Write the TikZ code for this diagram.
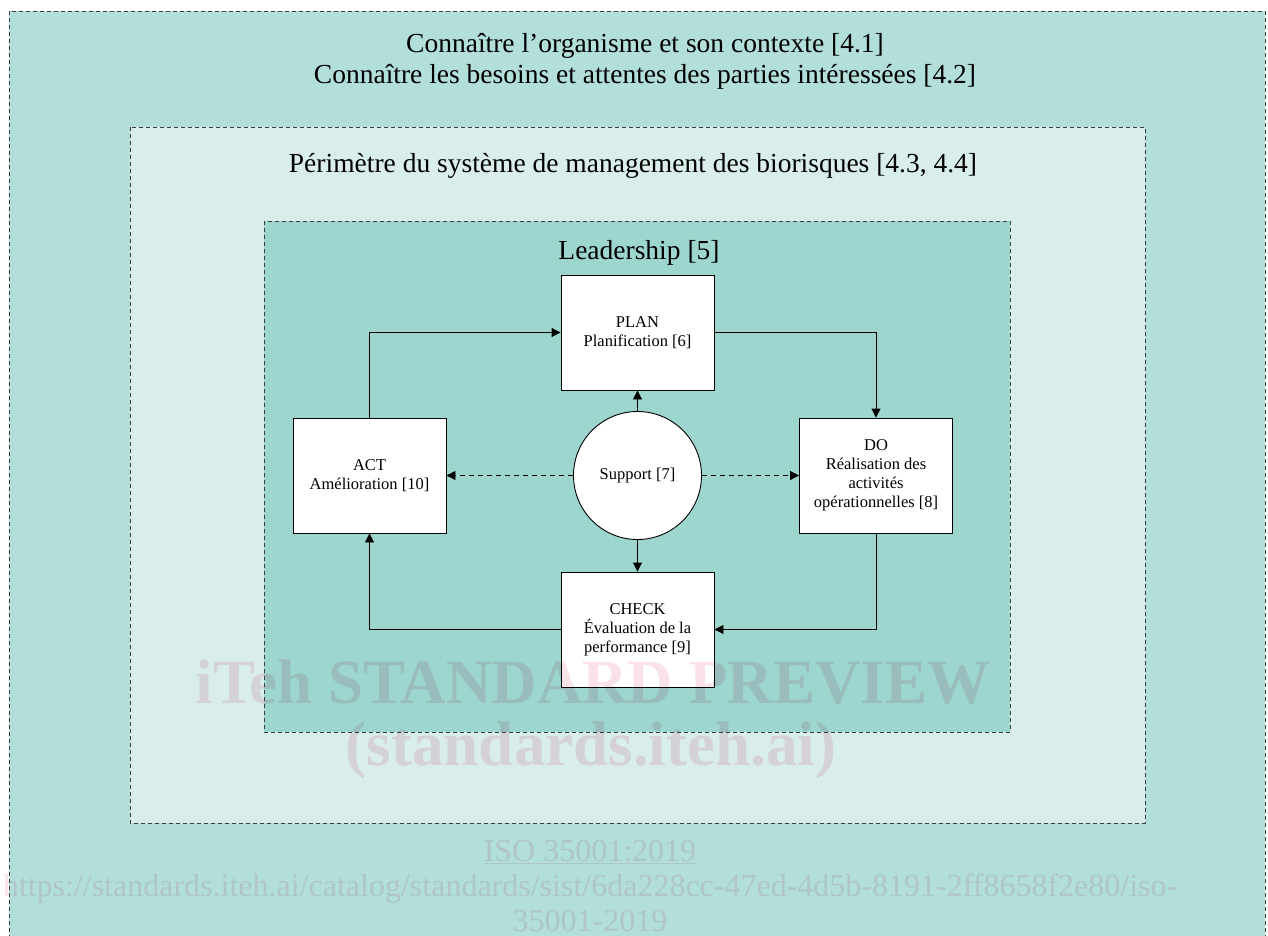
\documentclass[tikz,border=0pt]{standalone}
\usepackage{fontspec}
\setmainfont{Liberation Serif}
\usetikzlibrary{arrows.meta}
\definecolor{outerfill}{RGB}{179,223,218}
\definecolor{midfill}{RGB}{217,238,235}
\definecolor{innerfill}{RGB}{157,214,206}
\definecolor{framecol}{RGB}{60,60,60}
\definecolor{wmcol}{RGB}{250,226,233}
\begin{document}
\begin{tikzpicture}[x=1pt,y=-1pt,
  frame/.style={draw=framecol,line width=0.9pt,dash pattern=on 4pt off 3pt},
  heading/.style={font=\fontsize{27.5}{31}\selectfont,align=center,inner sep=0pt},
  stagebox/.style={draw=black,fill=white,line width=0.9pt,minimum width=153pt,minimum height=115pt,align=center,inner sep=2pt,font=\fontsize{16.5}{19}\selectfont},
  supportnode/.style={draw=black,fill=white,line width=0.9pt,circle,minimum size=128pt,inner sep=0pt,font=\fontsize{16.5}{19}\selectfont},
  conn/.style={draw=black,line width=0.9pt,-{Triangle[length=9pt,width=9pt]}},
  dconn/.style={conn,dash pattern=on 5pt off 4pt},
  wm/.style={text=wmcol,inner sep=0pt,align=center}]
\clip (0,0) rectangle (1268,936);
\fill[white] (0,0) rectangle (1268,936);
% frames
\draw[frame,fill=outerfill] (9,11) rectangle (1265,960);
\draw[frame,fill=midfill] (130,127) rectangle (1145,823);
\draw[frame,fill=innerfill] (264,221) rectangle (1010,732);
% headings
\node[heading] (ctx) at (645,61) {Connaître l’organisme et son contexte [4.1]\\Connaître les besoins et attentes des parties intéressées [4.2]};
\node[heading] (scope) at (633,166) {Périmètre du système de management des biorisques [4.3, 4.4]};
\node[heading] (lead) at (639,253) {Leadership [5]};
% stages
\node[stagebox] (plan) at (637.5,332.5) {PLAN\\Planification [6]};
\node[stagebox] (act) at (369.5,475.5) {ACT\\Amélioration [10]};
\node[stagebox] (do) at (876,475.5) {DO\\Réalisation des\\activités\\opérationnelles [8]};
\node[stagebox] (check) at (637.5,629.5) {CHECK\\Évaluation de la\\performance [9]};
\node[supportnode] (sup) at (637.5,475.5) {Support [7]};
% connectors
\draw[conn] (act.north) |- (plan.west);
\draw[conn] (plan.east) -| (do.north);
\draw[conn] (do.south) |- (check.east);
\draw[conn] (check.west) -| (act.south);
\draw[conn] (sup.north) -- (plan.south);
\draw[conn] (sup.south) -- (check.north);
\draw[dconn] (sup.west) -- (act.east);
\draw[dconn] (sup.east) -- (do.west);
% watermark
\begin{scope}[blend mode=multiply]
\node[wm,font=\fontsize{63}{70}\bfseries\selectfont] (wm1) at (593,682) {iTeh STANDARD PREVIEW};
\node[wm,font=\fontsize{63}{70}\bfseries\selectfont] (wm2) at (591,750) {(standards.iteh.ai)};
\node[wm,font=\fontsize{32}{35}\selectfont] (wm3) at (590,886) {\underline{ISO 35001:2019}\\https://standards.iteh.ai/catalog/standards/sist/6da228cc-47ed-4d5b-8191-2ff8658f2e80/iso-\\35001-2019};
\end{scope}
\end{tikzpicture}
\end{document}
